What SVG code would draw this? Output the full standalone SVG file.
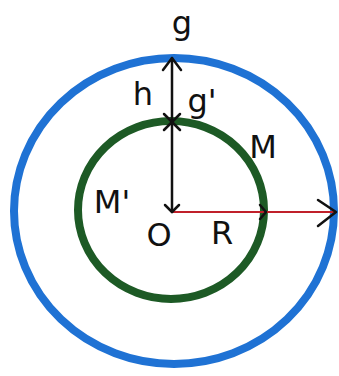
<svg xmlns="http://www.w3.org/2000/svg" width="339" height="376" viewBox="0 0 339 376">
<style>
.lbl{font-family:"DejaVu Sans","Liberation Sans",sans-serif;font-size:32px;fill:#111}
.ink{fill:none;stroke:#111;stroke-width:2.5;stroke-linecap:round;stroke-linejoin:round}
</style>
<rect width="339" height="376" fill="#fff"/>
<g id="outer-circle"><ellipse cx="174" cy="211" rx="160" ry="153" fill="none" stroke="#1f72d4" stroke-width="8"/></g>
<g id="inner-circle"><ellipse cx="171" cy="210" rx="93" ry="89" fill="none" stroke="#1d5a25" stroke-width="8"/></g>
<g id="connectors">
<line x1="172" y1="212" x2="335" y2="212" stroke="#c0202a" stroke-width="2"/>
<line class="ink" x1="172" y1="58" x2="172" y2="212"/>
<polyline class="ink" points="163,70 172,58 181,70"/>
<polyline class="ink" points="165,205 172,212 179,205"/>
<polyline class="ink" points="164,114 172,122 180,114"/>
<polyline class="ink" points="164,130 172,122 180,130"/>
<polyline class="ink" points="260,205 266,212 260,219"/>
<polyline class="ink" points="318,200 336,212 318,226"/>
</g>
<g id="labels">
<text class="lbl" x="182" y="34" text-anchor="middle">g</text>
<text class="lbl" x="143" y="105" text-anchor="middle">h</text>
<text class="lbl" x="202" y="112" text-anchor="middle">g'</text>
<text class="lbl" x="263" y="158" text-anchor="middle">M</text>
<text class="lbl" x="112" y="213" text-anchor="middle">M'</text>
<text class="lbl" x="159" y="246" text-anchor="middle">O</text>
<text class="lbl" x="222" y="244" text-anchor="middle">R</text>
</g>
</svg>
